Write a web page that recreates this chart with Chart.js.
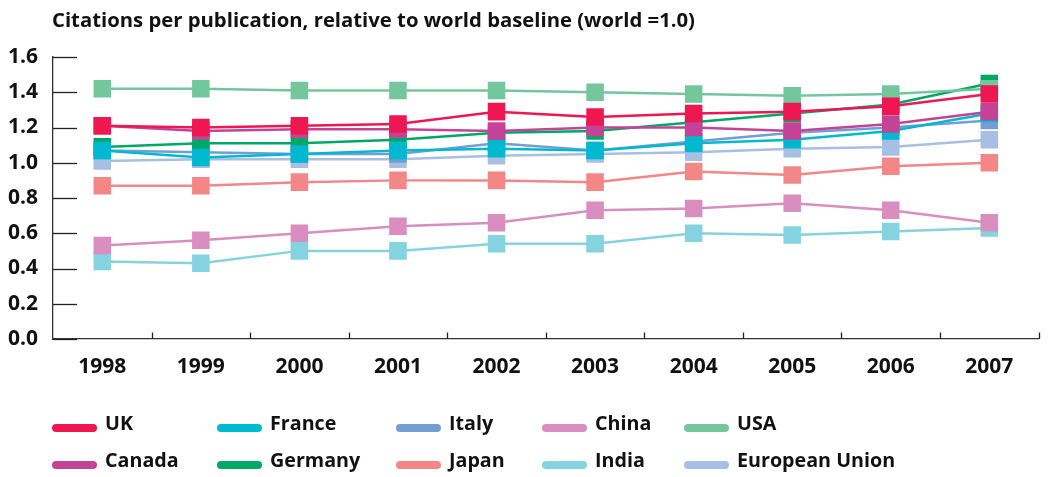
<!DOCTYPE html>
<html>
<head>
<meta charset="utf-8">
<script src="https://cdn.jsdelivr.net/npm/chart.js@4/dist/chart.umd.min.js"></script>
<style>
  html, body { margin: 0; padding: 0; background: #ffffff; }
  #wrap { width: 1051px; height: 477px; position: relative; }
</style>
</head>
<body>
<div id="wrap"><canvas id="chart" width="1051" height="477"></canvas></div>
<script>
// Citations per publication, relative to world baseline (world = 1.0)
const years = ['1998', '1999', '2000', '2001', '2002', '2003', '2004', '2005', '2006', '2007'];

const uk      = [1.21, 1.20, 1.21, 1.22, 1.29, 1.26, 1.28, 1.29, 1.32, 1.39];
const canada  = [1.21, 1.18, 1.19, 1.19, 1.18, 1.20, 1.20, 1.18, 1.22, 1.29];
const france  = [1.07, 1.03, 1.05, 1.07, 1.08, 1.07, 1.11, 1.13, 1.18, 1.28];
const germany = [1.09, 1.11, 1.11, 1.13, 1.17, 1.18, 1.23, 1.28, 1.33, 1.45];
const italy   = [1.07, 1.06, 1.05, 1.05, 1.11, 1.07, 1.12, 1.17, 1.20, 1.24];
const japan   = [0.87, 0.87, 0.89, 0.90, 0.90, 0.89, 0.95, 0.93, 0.98, 1.00];
const china   = [0.53, 0.56, 0.60, 0.64, 0.66, 0.73, 0.74, 0.77, 0.73, 0.66];
const india   = [0.44, 0.43, 0.50, 0.50, 0.54, 0.54, 0.60, 0.59, 0.61, 0.63];
const usa     = [1.42, 1.42, 1.41, 1.41, 1.41, 1.40, 1.39, 1.38, 1.39, 1.42];
const eu      = [1.01, 1.02, 1.02, 1.02, 1.04, 1.05, 1.06, 1.08, 1.09, 1.13];

const yTickValues = [0, 0.2, 0.4, 0.6, 0.8, 1.0, 1.2, 1.4, 1.6];

const titleText = 'Citations per publication, relative to world baseline (world =1.0)';
const FONT = '"Open Sans"';

// Series in drawing order: the first one ends up on top.
const series = [
  { label: 'UK',             data: uk,      color: '#ee1751' },
  { label: 'USA',            data: usa,     color: '#74c69d' },
  { label: 'Canada',         data: canada,  color: '#c54396' },
  { label: 'France',         data: france,  color: '#00b9d1' },
  { label: 'Germany',        data: germany, color: '#00a865' },
  { label: 'Italy',          data: italy,   color: '#739ed3' },
  { label: 'European Union', data: eu,      color: '#a8bfe4' },
  { label: 'Japan',          data: japan,   color: '#f38686' },
  { label: 'China',          data: china,   color: '#da8dbf' },
  { label: 'India',          data: india,   color: '#85d2e1' }
];

// Legend grid: two rows, five columns
const legendRows = [
  ['UK', 'France', 'Italy', 'China', 'USA'],
  ['Canada', 'Germany', 'Japan', 'India', 'European Union']
];
const legendColX = [52, 217, 396, 542, 684];
const legendRowY = [428, 465];

const datasets = series.map(s => ({
  label: s.label,
  data: s.data,
  borderColor: s.color,
  backgroundColor: s.color,
  borderWidth: 2.5,
  pointStyle: 'rect',
  pointRadius: 12.4,
  pointHoverRadius: 12.4,
  pointBorderWidth: 0,
  pointBackgroundColor: s.color,
  tension: 0,
  fill: false
}));

// Title, inner tick marks and the legend are drawn on the canvas.
const decorations = {
  id: 'decorations',
  afterDraw(chart) {
    const ctx = chart.ctx;
    const area = chart.chartArea;
    const xs = chart.scales.x;
    const ys = chart.scales.y;
    ctx.save();

    // title
    ctx.fillStyle = '#111111';
    ctx.font = 'bold 20.3px ' + FONT;
    ctx.textAlign = 'left';
    ctx.textBaseline = 'alphabetic';
    ctx.fillText(titleText, 52, 27);

    // y tick marks pointing into the plot
    ctx.strokeStyle = '#222222';
    ctx.lineWidth = 1.3;
    yTickValues.forEach(v => {
      const y = Math.round(ys.getPixelForValue(v)) + 0.5;
      ctx.beginPath();
      ctx.moveTo(area.left, y);
      ctx.lineTo(area.left + 24, y);
      ctx.stroke();
    });

    // x tick marks on category boundaries
    for (let i = 1; i <= years.length; i++) {
      let x;
      if (i < years.length) {
        x = (xs.getPixelForValue(i - 1) + xs.getPixelForValue(i)) / 2;
      } else {
        x = area.right;
      }
      x = Math.round(x) + 0.5;
      ctx.beginPath();
      ctx.moveTo(x, area.bottom);
      ctx.lineTo(x, area.bottom - 6.5);
      ctx.stroke();
    }

    // legend
    ctx.font = 'bold 19.7px ' + FONT;
    ctx.textBaseline = 'middle';
    ctx.lineCap = 'round';
    legendRows.forEach((row, r) => {
      row.forEach((name, c) => {
        const s = series.find(d => d.label === name);
        const x = legendColX[c];
        const y = legendRowY[r];
        ctx.strokeStyle = s.color;
        ctx.lineWidth = 8;
        ctx.beginPath();
        ctx.moveTo(x + 4, y);
        ctx.lineTo(x + 41, y);
        ctx.stroke();
        ctx.fillStyle = '#111111';
        ctx.fillText(name, x + 53, y - 4);
      });
    });
    ctx.restore();
  }
};

new Chart(document.getElementById('chart'), {
  type: 'line',
  data: { labels: years, datasets: datasets },
  plugins: [decorations],
  options: {
    responsive: false,
    animation: false,
    devicePixelRatio: 1,
    layout: { padding: { top: 57, right: 8, bottom: 0, left: 0 } },
    plugins: {
      legend: { display: false },
      title: { display: false },
      tooltip: { enabled: false }
    },
    scales: {
      x: {
        type: 'category',
        offset: true,
        grid: { display: false, drawTicks: false },
        border: { display: true, color: '#333333', width: 1.3 },
        ticks: {
          color: '#111111',
          font: { family: FONT, size: 21, weight: 'bold' },
          padding: 15,
          maxRotation: 0,
          autoSkip: false
        },
        afterFit(scale) { scale.height = 138; }
      },
      y: {
        min: 0,
        max: 1.6,
        grid: { display: false, drawTicks: false },
        border: { display: true, color: '#333333', width: 1.3 },
        ticks: {
          stepSize: 0.2,
          color: '#111111',
          font: { family: FONT, size: 21, weight: 'bold' },
          padding: 15,
          callback: v => Number(v).toFixed(1)
        },
        afterFit(scale) { scale.width = 53; }
      }
    }
  }
});
</script>
</body>
</html>
